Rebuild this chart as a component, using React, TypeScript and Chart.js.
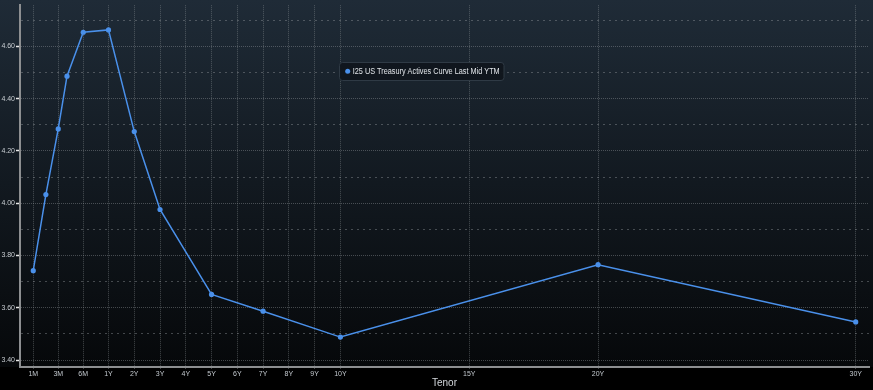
import React, { useEffect, useRef } from "react";
import { Chart, registerables } from "chart.js";

Chart.register(...registerables);

// ---- data ----
const seriesLabel = "I25 US Treasury Actives Curve Last Mid YTM";
const pointTenors = ["1M", "2M", "3M", "4M", "6M", "1Y", "2Y", "3Y", "5Y", "7Y", "10Y", "20Y", "30Y"];
const pointPositions = [-1.92, -1.43, -0.95, -0.61, 0.02, 1, 2, 3, 5, 7, 10, 20, 30];
const yields = [3.742, 4.033, 4.284, 4.486, 4.654, 4.663, 4.274, 3.976, 3.651, 3.587, 3.488, 3.765, 3.546];

const xTickLabels = ["1M", "3M", "6M", "1Y", "2Y", "3Y", "4Y", "5Y", "6Y", "7Y", "8Y", "9Y", "10Y", "15Y", "20Y", "30Y"];
const xTickPositions = [-1.92, -0.95, 0.02, 1, 2, 3, 4, 5, 6, 7, 8, 9, 10, 15, 20, 30];
const yTickValues = [3.4, 3.5, 3.6, 3.7, 3.8, 3.9, 4.0, 4.1, 4.2, 4.3, 4.4, 4.5, 4.6, 4.7];
const xTitle = "Tenor";

const LINE = "#4a90ea";
const FONT = "'Liberation Sans', Arial, sans-serif";
const GRID = "rgba(150,155,160,0.42)";

const bgPlugin = {
  id: "bgPlugin",
  beforeDraw(chart: any) {
    const { ctx, width, height, chartArea } = chart;
    ctx.save();
    ctx.fillStyle = "#000";
    ctx.fillRect(0, 0, width, height);
    const g = ctx.createLinearGradient(0, 0, 0, chartArea.bottom);
    g.addColorStop(0, "#1f2b37");
    g.addColorStop(0.5, "#121920");
    g.addColorStop(1, "#06080a");
    ctx.fillStyle = g;
    ctx.fillRect(0, 0, width, chartArea.bottom);
    ctx.restore();
  },
};

const legendPlugin = {
  id: "legendBox",
  afterDatasetsDraw(chart: any) {
    const { ctx } = chart;
    const x = 339.5, y = 62.5, w = 164.5, h = 18, r = 3;
    ctx.save();
    ctx.beginPath();
    ctx.moveTo(x + r, y);
    ctx.lineTo(x + w - r, y);
    ctx.quadraticCurveTo(x + w, y, x + w, y + r);
    ctx.lineTo(x + w, y + h - r);
    ctx.quadraticCurveTo(x + w, y + h, x + w - r, y + h);
    ctx.lineTo(x + r, y + h);
    ctx.quadraticCurveTo(x, y + h, x, y + h - r);
    ctx.lineTo(x, y + r);
    ctx.quadraticCurveTo(x, y, x + r, y);
    ctx.closePath();
    ctx.fillStyle = "rgba(16,22,29,0.96)";
    ctx.fill();
    ctx.strokeStyle = "#2f3a45";
    ctx.lineWidth = 1;
    ctx.stroke();
    ctx.beginPath();
    ctx.arc(347.7, 71.3, 2.5, 0, Math.PI * 2);
    ctx.fillStyle = LINE;
    ctx.fill();
    ctx.fillStyle = "#e2e6ea";
    ctx.font = `8.5px ${FONT}`;
    ctx.textBaseline = "middle";
    ctx.textAlign = "left";
    const label = chart.data.datasets[0].label;
    const tw = ctx.measureText(label).width;
    const target = 147;
    ctx.translate(352.7, 71.5);
    ctx.scale(target / tw, 1);
    ctx.fillText(label, 0, 0);
    ctx.restore();
  },
};

export default function App() {
  const ref = useRef<HTMLCanvasElement | null>(null);

  useEffect(() => {
    document.body.style.margin = "0";
    document.body.style.background = "#000";
    const canvas = ref.current;
    if (!canvas) return;
    const chart = new Chart(canvas, {
      type: "line",
      data: {
        datasets: [
          {
            label: seriesLabel,
            data: pointPositions.map((p, i) => ({ x: p, y: yields[i], t: pointTenors[i] })),
            borderColor: LINE,
            backgroundColor: LINE,
            borderWidth: 1.5,
            pointRadius: 2.6,
            pointBorderWidth: 0,
            pointBackgroundColor: LINE,
            tension: 0,
          } as any,
        ],
      },
      options: {
        animation: false,
        responsive: false,
        maintainAspectRatio: false,
        layout: { padding: { top: 0, right: 2, bottom: 0, left: 0 } },
        plugins: {
          legend: { display: false },
          tooltip: { enabled: false },
        },
        scales: {
          x: {
            type: "linear",
            min: -2.434,
            max: 30.515,
            afterBuildTicks: (scale: any) => {
              scale.ticks = xTickPositions.map((v) => ({ value: v }));
            },
            afterFit: (scale: any) => {
              scale.height = 23;
            },
            ticks: {
              autoSkip: false,
              maxRotation: 0,
              padding: 1,
              color: "#c3c9cf",
              font: { family: FONT, size: 7 },
              callback: (_v: any, i: number) => xTickLabels[i],
            },
            grid: {
              color: GRID,
              lineWidth: 1,
              drawTicks: true,
              tickLength: 2,
              tickColor: GRID,
            },
            border: {
              display: true,
              color: "#8d8f91",
              width: 2,
              dash: [1, 1],
            },
            title: {
              display: true,
              text: xTitle,
              color: "#d3d7db",
              font: { family: FONT, size: 10 },
              padding: { top: 0, bottom: 1 },
            },
          },
          y: {
            type: "linear",
            min: 3.3736,
            max: 4.7574,
            afterBuildTicks: (scale: any) => {
              scale.ticks = yTickValues.map((v) => ({ value: v }));
            },
            afterFit: (scale: any) => {
              scale.width = 20;
            },
            ticks: {
              autoSkip: false,
              padding: 1,
              color: "#c8cdd2",
              font: { family: FONT, size: 7 },
              callback: (v: any, i: number) => (i % 2 === 0 ? Number(v).toFixed(2) : ""),
            },
            grid: {
              color: GRID,
              lineWidth: 1,
              drawTicks: true,
              tickLength: 4,
              tickWidth: 1.5,
              tickColor: (ctx: any) => (ctx.index % 2 === 0 ? "#e8e8e8" : "rgba(0,0,0,0)"),
            },
            border: {
              display: true,
              color: "#8d8f91",
              width: 2,
              dash: (ctx: any) => (ctx.index % 2 === 0 ? [1, 1] : [2, 4]),
            } as any,
          },
        },
      },
      plugins: [bgPlugin, legendPlugin],
    });
    return () => chart.destroy();
  }, []);

  return (
    <div style={{ width: 873, height: 390, position: "relative" }}>
      <canvas ref={ref} width={873} height={390} style={{ display: "block", width: 873, height: 390 }} />
    </div>
  );
}
